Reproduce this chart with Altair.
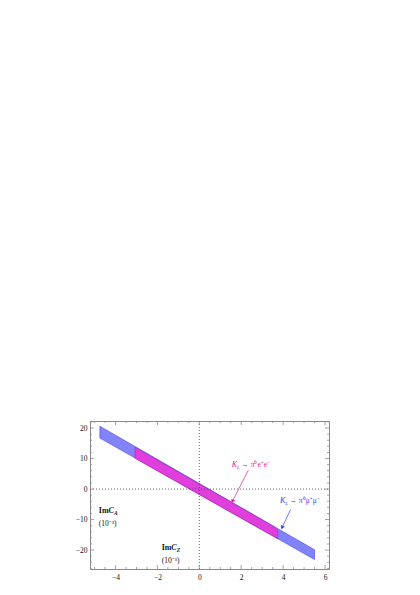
import altair as alt
import pandas as pd

# ---- data ----
blue_x = [-4.75, 5.5]
blue_top = [20.6, -19.9]
blue_bot = [16.7, -23.1]

pink_x = [-3.07, 3.28, 3.5, 3.65, 3.75]
pink_top = [13.7, -11.2, -12.1, -12.8, -13.5]
pink_bot = [10.1, -14.5, -15.3, -15.9, -16.3]

x_major = [-4, -2, 0, 2, 4, 6]
x_minor = [-5, -4.5, -3.5, -3, -2.5, -1.5, -1, -0.5, 0.5, 1, 1.5, 2.5, 3, 3.5, 4.5, 5, 5.5]
y_major = [-20, -10, 0, 10, 20]
y_minor = [-26, -24, -22, -18, -16, -14, -12, -8, -6, -4, -2, 2, 4, 6, 8, 12, 14, 16, 18, 22]

arrow_e = {"x": [2.34, 1.58], "y": [6.2, -4.0]}
arrow_mu = {"x": [4.36, 3.95], "y": [-6.7, -12.6]}

XD = [-5.22, 6.19]
YD = [-26.2, 22.3]
W, H = 239, 148

xs = alt.Scale(domain=XD, nice=False, zero=False)
ys = alt.Scale(domain=YD, nice=False, zero=False)
SERIF = "Liberation Serif"
FRAME = "#8a8a8a"

blue_df = pd.DataFrame({"x": blue_x, "top": blue_top, "bot": blue_bot})
pink_df = pd.DataFrame({"x": pink_x, "top": pink_top, "bot": pink_bot})

x_axis = alt.Axis(values=x_major, title=None, grid=False, domain=False, ticks=False, labelFont=SERIF,
                  labelFontSize=7.5, labelColor="#111", labelPadding=4, format="d", labelOverlap=False)
y_axis = alt.Axis(values=y_major, title=None, grid=False, domain=False, ticks=False, labelFont=SERIF,
                  labelFontSize=7.5, labelColor="#111", labelPadding=3, format="d", labelOverlap=False)


def X(field):
    return alt.X(field, scale=xs, axis=x_axis)


def Y(field):
    return alt.Y(field, scale=ys, axis=y_axis)


blue = alt.Chart(blue_df).mark_area(color="#8282fa", opacity=1, stroke="#4a4ae0", strokeWidth=0.6).encode(
    x=X("x:Q"), y=Y("top:Q"), y2="bot:Q")
pink = alt.Chart(pink_df).mark_area(color="#e03fdc", opacity=1, stroke="#b020b0", strokeWidth=0.6).encode(
    x=X("x:Q"), y=Y("top:Q"), y2="bot:Q")

zero_df = pd.DataFrame({"v": [0]})
vline = alt.Chart(zero_df).mark_rule(color="#444", strokeDash=[1, 2], strokeWidth=0.8).encode(
    x=X("v:Q"), y=alt.value(0), y2=alt.value(H))
hline = alt.Chart(zero_df).mark_rule(color="#444", strokeDash=[1, 2], strokeWidth=0.8).encode(
    y=Y("v:Q"), x=alt.value(0), x2=alt.value(W))


def xticks(vals, length):
    d = pd.DataFrame({"v": vals})
    b = alt.Chart(d).mark_rule(color=FRAME, strokeWidth=0.8).encode(
        x=X("v:Q"), y=alt.value(H), y2=alt.value(H - length))
    t = alt.Chart(d).mark_rule(color=FRAME, strokeWidth=0.8).encode(
        x=X("v:Q"), y=alt.value(0), y2=alt.value(length))
    return [b, t]


def yticks(vals, length):
    d = pd.DataFrame({"v": vals})
    l = alt.Chart(d).mark_rule(color=FRAME, strokeWidth=0.8).encode(
        y=Y("v:Q"), x=alt.value(0), x2=alt.value(length))
    r = alt.Chart(d).mark_rule(color=FRAME, strokeWidth=0.8).encode(
        y=Y("v:Q"), x=alt.value(W), x2=alt.value(W - length))
    return [l, r]


ticks = xticks(x_major, 4) + xticks(x_minor, 2) + yticks(y_major, 4) + yticks(y_minor, 2)


def text(x, y, s, color="#111", size=8, dx=0, dy=0, weight="normal", style="normal"):
    d = pd.DataFrame({"x": [x], "y": [y], "t": [s]})
    return alt.Chart(d).mark_text(font=SERIF, fontSize=size, color=color, align="left", baseline="middle",
                                  dx=dx, dy=dy, fontWeight=weight, fontStyle=style).encode(
        x=X("x:Q"), y=Y("y:Q"), text="t:N")


def kl_label(x, y, tail, color):
    return [
        text(x, y, "K", color=color, size=8, style="italic"),
        text(x, y, "L", color=color, size=5, dx=5.3, dy=2, style="italic"),
        text(x, y, "→ π⁰" + tail, color=color, size=7.5, dx=9.5),
    ]


def imc_label(x, y, sub):
    return [
        text(x, y, "Im", size=8, weight="bold"),
        text(x, y, "C", size=8, dx=9.6, weight="bold", style="italic"),
        text(x, y, sub, size=5.5, dx=15.2, dy=2.2, weight="bold", style="italic"),
        text(x, y - 4.2, "(10⁻³)", size=7.5, dx=0),
    ]


labels = (kl_label(1.55, 7.9, "e⁺e⁻", "#e0209a") + kl_label(3.85, -3.9, "μ⁺μ⁻", "#4040ff")
          + imc_label(-4.8, -7.2, "A") + imc_label(-1.8, -19.3, "Z"))


def arrow(a, color, angle):
    d = pd.DataFrame(a)
    line = alt.Chart(d).mark_line(color=color, strokeWidth=0.7).encode(x=X("x:Q"), y=Y("y:Q"))
    head = alt.Chart(d.iloc[[1]]).mark_point(shape="triangle-up", filled=True, color=color, size=18,
                                            angle=angle, opacity=1).encode(x=X("x:Q"), y=Y("y:Q"))
    return [line, head]


arrows = arrow(arrow_e, "#e0209a", 207) + arrow(arrow_mu, "#4040ff", 205)

chart = alt.layer(blue, pink, vline, hline, *ticks, *arrows, *labels).properties(
    width=W, height=H,
    autosize=alt.AutoSizeParams(type="none"),
    padding={"left": 82, "top": 413, "right": 60, "bottom": 20},
).configure_view(stroke=FRAME, strokeWidth=1)

chart.save("out.html", embed_options={"renderer": "svg", "actions": False})
